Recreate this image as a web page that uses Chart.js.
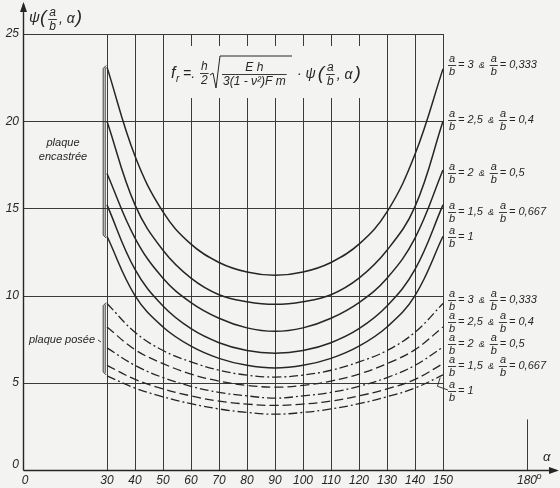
<!DOCTYPE html>
<html>
<head>
    <title>Psi (a/b, alpha)</title>
    <script src="https://cdn.jsdelivr.net/npm/chart.js"></script>
    <style>
        body {
            margin: 0;
            background: #f3f3f1;
        }
        #wrap {
            width: 560px;
            height: 488px;
        }
    </style>
</head>
<body>
    <div id="wrap"><canvas id="psiChart" width="560" height="488"></canvas></div>

    <script>
        // angle alpha in degrees
        const alphas = [30, 40, 50, 60, 70, 80, 90, 100, 110, 120, 130, 140, 150];

        // plaque encastree (solid)
        const enc3   = [23.1, 18.0, 14.8, 12.95, 11.9, 11.35, 11.16, 11.35, 11.9, 12.95, 14.8, 18.1, 23.0];
        const enc25  = [20.0, 15.2, 12.6, 11.0, 10.05, 9.65, 9.5, 9.65, 10.05, 11.0, 12.6, 15.1, 20.0];
        const enc2   = [17.0, 13.3, 11.0, 9.6, 8.7, 8.15, 7.95, 8.15, 8.7, 9.6, 11.0, 13.3, 17.2];
        const enc15  = [15.2, 11.5, 9.4, 8.1, 7.3, 6.85, 6.7, 6.85, 7.3, 8.1, 9.4, 11.5, 15.2];
        const enc1   = [13.4, 10.0, 8.2, 7.1, 6.4, 6.0, 5.85, 6.0, 6.4, 7.1, 8.2, 10.0, 13.4];

        // plaque posee (dashed)
        const pos3   = [9.55, 7.9, 6.85, 6.2, 5.72, 5.44, 5.33, 5.44, 5.72, 6.2, 6.85, 7.9, 9.55];
        const pos25  = [8.2, 6.9, 6.1, 5.5, 5.1, 4.85, 4.75, 4.85, 5.1, 5.5, 6.1, 6.9, 8.2];
        const pos2   = [7.0, 6.0, 5.3, 4.8, 4.45, 4.25, 4.12, 4.25, 4.45, 4.8, 5.3, 6.0, 7.05];
        const pos15  = [6.0, 5.2, 4.65, 4.25, 3.95, 3.78, 3.7, 3.78, 3.95, 4.25, 4.65, 5.2, 6.1];
        const pos1   = [5.4, 4.7, 4.2, 3.8, 3.5, 3.3, 3.2, 3.3, 3.5, 3.8, 4.2, 4.7, 5.45];

        const xTicks = [0, 30, 40, 50, 60, 70, 80, 90, 100, 110, 120, 130, 140, 150, 180];
        const yTicks = [0, 5, 10, 15, 20, 25];

        const ratioLabels = [['3', '0,333'], ['2,5', '0,4'], ['2', '0,5'], ['1,5', '0,667'], ['1', null]];
        const solidLabelY = [65, 120, 173, 212, 237];
        const dashLabelY = [300, 322, 344, 366, 391];

        const ink = '#262626';
        const dashDot = [9, 3, 2, 3];
        const dashed = [9, 4];

        function toPoints(vals) {
            return alphas.map((a, i) => ({ x: a, y: vals[i] }));
        }

        function line(vals, dash) {
            return {
                data: toPoints(vals),
                borderColor: ink,
                borderWidth: dash ? 1.3 : 1.5,
                borderDash: dash || [],
                pointRadius: 0,
                fill: false,
                tension: 0.4
            };
        }

        function frac(ctx, x, y, top, bot, size) {
            ctx.font = 'italic ' + size + 'px "Liberation Sans"';
            const w = Math.max(ctx.measureText(top).width, ctx.measureText(bot).width) + 2;
            ctx.textAlign = 'center';
            ctx.textBaseline = 'middle';
            ctx.fillText(top, x + w / 2, y - size * 0.55);
            ctx.fillText(bot, x + w / 2, y + size * 0.6);
            ctx.beginPath();
            ctx.moveTo(x, y + 0.5);
            ctx.lineTo(x + w, y + 0.5);
            ctx.lineWidth = 0.9;
            ctx.stroke();
            ctx.textAlign = 'left';
            return w;
        }

        function txt(ctx, x, y, s, size) {
            ctx.font = 'italic ' + size + 'px "Liberation Sans"';
            ctx.textAlign = 'left';
            ctx.textBaseline = 'middle';
            ctx.fillText(s, x, y);
            return ctx.measureText(s).width;
        }

        function ratioLabel(ctx, x, y, pair) {
            let cx = x;
            cx += frac(ctx, cx, y, 'a', 'b', 11) + 2;
            cx += txt(ctx, cx, y, '= ' + pair[0], 11);
            if (pair[1]) {
                cx += txt(ctx, cx, y, '  &  ', 9);
                cx += frac(ctx, cx, y, 'a', 'b', 11) + 2;
                txt(ctx, cx, y, '= ' + pair[1], 11);
            }
        }

        const gridPlugin = {
            id: 'gridPlugin',
            beforeDatasetsDraw(chart) {
                const ctx = chart.ctx;
                const xs = chart.scales.x;
                const ys = chart.scales.y;
                ctx.save();
                ctx.strokeStyle = '#3a3a3a';
                ctx.lineWidth = 1;
                yTicks.slice(1).forEach(v => {
                    const y = Math.round(ys.getPixelForValue(v)) + 0.5;
                    ctx.beginPath();
                    ctx.moveTo(xs.getPixelForValue(0), y);
                    ctx.lineTo(xs.getPixelForValue(150), y);
                    ctx.stroke();
                });
                xTicks.slice(1, -1).forEach(v => {
                    const x = Math.round(xs.getPixelForValue(v)) + 0.5;
                    ctx.beginPath();
                    ctx.moveTo(x, ys.getPixelForValue(0));
                    ctx.lineTo(x, ys.getPixelForValue(25));
                    ctx.stroke();
                });
                // short mark at 180
                const x180 = Math.round(xs.getPixelForValue(180)) + 0.5;
                ctx.beginPath();
                ctx.moveTo(x180, ys.getPixelForValue(0));
                ctx.lineTo(x180, ys.getPixelForValue(2.9));
                ctx.stroke();

                // axes with arrows
                const x0 = Math.round(xs.getPixelForValue(0)) + 0.5;
                const y0 = Math.round(ys.getPixelForValue(0)) + 0.5;
                ctx.lineWidth = 1.4;
                ctx.strokeStyle = ink;
                ctx.beginPath();
                ctx.moveTo(x0, y0);
                ctx.lineTo(x0, 4);
                ctx.moveTo(x0, y0);
                ctx.lineTo(556, y0);
                ctx.stroke();
                ctx.fillStyle = ink;
                ctx.beginPath();
                ctx.moveTo(x0, 2);
                ctx.lineTo(x0 - 3.5, 12);
                ctx.lineTo(x0 + 3.5, 12);
                ctx.closePath();
                ctx.fill();
                ctx.beginPath();
                ctx.moveTo(559, y0);
                ctx.lineTo(549, y0 - 3.5);
                ctx.lineTo(549, y0 + 3.5);
                ctx.closePath();
                ctx.fill();

                // paper behind the formula
                ctx.fillStyle = '#f3f3f1';
                ctx.fillRect(170, 46, 198, 52);
                ctx.restore();
            },
            afterDraw(chart) {
                const ctx = chart.ctx;
                const xs = chart.scales.x;
                const ys = chart.scales.y;
                ctx.save();
                ctx.fillStyle = ink;
                ctx.strokeStyle = ink;

                // tick labels
                ctx.font = 'italic 12px "Liberation Sans"';
                ctx.textBaseline = 'middle';
                ctx.textAlign = 'right';
                yTicks.forEach(v => {
                    ctx.fillText(String(v), 19, ys.getPixelForValue(v) - (v === 0 ? 5 : 0));
                });
                ctx.textAlign = 'center';
                xTicks.forEach(v => {
                    ctx.fillText(String(v), xs.getPixelForValue(v) + (v === 0 ? 2 : 0), 481);
                });
                ctx.font = 'italic 9px "Liberation Sans"';
                ctx.fillText('o', xs.getPixelForValue(180) + 12, 476);
                txt(ctx, 543, 457, 'α', 13);

                // y axis title
                let cx = 29;
                cx += txt(ctx, cx, 18, 'ψ', 15);
                cx += txt(ctx, cx, 18, '(', 19) + 1;
                cx += frac(ctx, cx + 1, 19, 'a', 'b', 12) + 3;
                cx += txt(ctx, cx, 19, ', α', 14);
                txt(ctx, cx + 1, 18, ')', 19);

                // formula
                cx = 171;
                txt(ctx, cx, 74, 'f', 16);
                txt(ctx, cx + 5, 79, 'r', 10);
                txt(ctx, cx + 12, 74, '=.', 14);
                frac(ctx, 200, 73, 'h', '2', 12);
                ctx.lineWidth = 1;
                ctx.beginPath();
                ctx.moveTo(210, 75);
                ctx.lineTo(213, 73);
                ctx.lineTo(216, 88);
                ctx.lineTo(220, 56);
                ctx.lineTo(292, 56);
                ctx.stroke();
                frac(ctx, 222, 74, 'E h', '3(1 - ν²)F m', 12);
                cx = 297;
                cx += txt(ctx, cx, 74, '· ψ', 14);
                cx += txt(ctx, cx + 2, 74, '(', 19) + 4;
                cx += frac(ctx, cx, 74, 'a', 'b', 12) + 2;
                cx += txt(ctx, cx, 75, ', α', 14);
                txt(ctx, cx + 2, 74, ')', 19);

                // ratio labels on the right
                ratioLabels.forEach((p, i) => ratioLabel(ctx, 448, solidLabelY[i], p));
                ratioLabels.forEach((p, i) => ratioLabel(ctx, 448, dashLabelY[i], p));

                // left labels
                ctx.font = 'italic 11px "Liberation Sans"';
                ctx.textAlign = 'center';
                ctx.textBaseline = 'middle';
                ctx.fillText('plaque', 63, 143);
                ctx.fillText('encastrée', 63, 157);
                ctx.fillText('plaque posée', 62, 340);

                // braces grouping the curves at alpha = 30
                ctx.lineWidth = 0.9;
                const bx = xs.getPixelForValue(29);
                [[23.2, 13.3], [9.6, 5.45]].forEach(b => {
                    const t = ys.getPixelForValue(b[0]);
                    const u = ys.getPixelForValue(b[1]);
                    ctx.beginPath();
                    ctx.moveTo(bx + 2, t);
                    ctx.lineTo(bx - 1, t + 3);
                    ctx.lineTo(bx - 1, u - 3);
                    ctx.lineTo(bx + 2, u);
                    ctx.moveTo(bx + 1, t + 2);
                    ctx.lineTo(bx + 1, u - 2);
                    ctx.stroke();
                });
                ctx.beginPath();
                ctx.moveTo(101, 342);
                ctx.lineTo(98, 340);
                ctx.stroke();
                // hook to the last dashed label
                ctx.beginPath();
                ctx.moveTo(xs.getPixelForValue(149), ys.getPixelForValue(5.3));
                ctx.lineTo(xs.getPixelForValue(148), ys.getPixelForValue(4.8));
                ctx.lineTo(448, 390);
                ctx.stroke();
                ctx.restore();
            }
        };

        const chart = new Chart(document.getElementById('psiChart'), {
            type: 'line',
            data: {
                datasets: [
                    line(enc3), line(enc25), line(enc2), line(enc15), line(enc1),
                    line(pos3, dashDot), line(pos25, dashed), line(pos2, dashDot),
                    line(pos15, dashed), line(pos1, dashDot)
                ]
            },
            options: {
                responsive: false,
                animation: false,
                layout: { padding: { left: 23, right: 33, top: 34, bottom: 18 } },
                scales: {
                    x: { type: 'linear', min: 0, max: 180, display: false },
                    y: { min: 0, max: 25, display: false }
                },
                plugins: {
                    legend: { display: false },
                    tooltip: { enabled: false }
                }
            },
            plugins: [gridPlugin]
        });
    </script>
</body>
</html>
